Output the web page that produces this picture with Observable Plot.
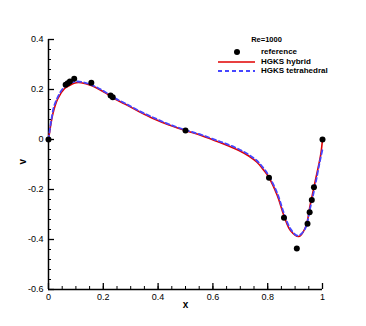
<!DOCTYPE html>
<html><head><meta charset="utf-8">
<script src="https://cdn.jsdelivr.net/npm/d3@7"></script>
<script src="https://cdn.jsdelivr.net/npm/@observablehq/plot@0.6"></script>
<style>
body{margin:0;background:#fff}
#wrap{position:relative;width:366px;height:326px;font-family:'Liberation Sans',Arial,sans-serif}
.lg{position:absolute;font-size:8px;font-weight:bold;line-height:1;white-space:nowrap;transform:translateY(-50%)}
</style>
</head><body><div id="wrap"></div>
<script>
// reference data (dots)
const refX = [0, 0.0625, 0.0703, 0.0781, 0.0938, 0.1563, 0.2266, 0.2344, 0.5, 0.8047, 0.8594, 0.9063, 0.9453, 0.9531, 0.9609, 0.9688, 1.0];
const refV = [0, 0.219, 0.225, 0.232, 0.243, 0.227, 0.176, 0.169, 0.036, -0.153, -0.313, -0.436, -0.337, -0.291, -0.242, -0.191, 0];
// HGKS hybrid (red)
const hybX = [0, 0.004, 0.016, 0.034, 0.058, 0.083, 0.101, 0.119, 0.156, 0.204, 0.241, 0.277, 0.33, 0.384, 0.44, 0.5, 0.56, 0.628, 0.66, 0.695, 0.731, 0.76, 0.785, 0.804, 0.835, 0.859, 0.883, 0.914, 0.938, 0.956, 0.974, 0.993, 1.0];
const hybV = [0, 0.029, 0.103, 0.163, 0.203, 0.220, 0.227, 0.227, 0.216, 0.189, 0.163, 0.143, 0.112, 0.083, 0.058, 0.036, 0.015, -0.013, -0.027, -0.044, -0.066, -0.090, -0.122, -0.151, -0.224, -0.304, -0.364, -0.388, -0.351, -0.257, -0.164, -0.064, 0];
// HGKS tetrahedral (blue dashed)
const tetX = [0, 0.007, 0.012, 0.019, 0.028, 0.040, 0.052, 0.070, 0.089, 0.107, 0.14, 0.17, 0.204, 0.241, 0.277, 0.33, 0.384, 0.44, 0.5, 0.56, 0.628, 0.66, 0.695, 0.731, 0.76, 0.785, 0.804, 0.835, 0.859, 0.883, 0.91, 0.935, 0.956, 0.974, 0.99, 1.0];
const tetV = [0, 0.056, 0.089, 0.129, 0.156, 0.183, 0.203, 0.220, 0.229, 0.232, 0.225, 0.212, 0.192, 0.166, 0.146, 0.115, 0.087, 0.061, 0.038, 0.018, -0.009, -0.022, -0.039, -0.061, -0.084, -0.115, -0.145, -0.215, -0.294, -0.357, -0.385, -0.36, -0.27, -0.18, -0.09, -0.04];

const xTicks = [0, 0.2, 0.4, 0.6, 0.8, 1];
const yTicks = [-0.6, -0.4, -0.2, 0, 0.2, 0.4];
const xMinor = d3.range(0, 1.0001, 0.05);
const yMinor = d3.range(-0.6, 0.4001, 0.04);

const ref = refX.map((x, i) => ({x, v: refV[i]}));
const hyb = hybX.map((x, i) => ({x, v: hybV[i]}));
const tet = tetX.map((x, i) => ({x, v: tetV[i]}));
const fmt = d => String(Math.round(d * 10) / 10);

const plot = Plot.plot({
  width: 366, height: 326,
  marginLeft: 48, marginRight: 44, marginTop: 39, marginBottom: 37,
  style: {fontFamily: "'Liberation Sans', Arial, sans-serif", fontSize: "9px", color: "black", background: "white"},
  x: {domain: [0, 1]},
  y: {domain: [-0.6, 0.4]},
  marks: [
    Plot.axisX({ticks: xTicks, tickSize: 0, tickPadding: 4, tickFormat: fmt, label: null, fontSize: 9}),
    Plot.axisY({ticks: yTicks, tickSize: 0, tickPadding: 5, tickFormat: fmt, label: null, fontSize: 9}),
    Plot.tickX(xMinor, {x: d => d, insetTop: 247, stroke: "black", strokeWidth: 1}),
    Plot.tickX(xTicks, {x: d => d, insetTop: 244, stroke: "black", strokeWidth: 1.3}),
    Plot.tickY(yMinor, {y: d => d, insetRight: 271, stroke: "black", strokeWidth: 1}),
    Plot.tickY(yTicks, {y: d => d, insetRight: 268, stroke: "black", strokeWidth: 1.3}),
    Plot.ruleX([0], {stroke: "black", strokeWidth: 1.5}),
    Plot.ruleY([-0.6], {stroke: "black", strokeWidth: 1.5}),
    Plot.line(hyb, {x: "x", y: "v", stroke: "#e00000", strokeWidth: 1.6, curve: "catmull-rom"}),
    Plot.line(tet, {x: "x", y: "v", stroke: "#4646ff", strokeWidth: 1.8, strokeDasharray: "4,3", curve: "catmull-rom"}),
    Plot.dot(ref, {x: "x", y: "v", r: 3, fill: "black", stroke: "none"}),
    Plot.text(["x"], {frameAnchor: "bottom", dy: 18, fontWeight: "bold", fontSize: 10}),
    Plot.text(["v"], {frameAnchor: "left", dx: -26, rotate: -90, fontWeight: "bold", fontSize: 10})
  ]
});
const wrap = document.getElementById("wrap");
wrap.appendChild(plot);

// legend overlay
const legend = [
  {label: "reference", kind: "dot"},
  {label: "HGKS hybrid", kind: "solid", color: "#e00000"},
  {label: "HGKS tetrahedral", kind: "dash", color: "#4646ff"}
];
const title = document.createElement("div");
title.className = "lg";
title.textContent = "Re=1000";
title.style.cssText = "left:266.5px;top:40px;font-size:7.5px;transform:translate(-50%,-50%)";
wrap.appendChild(title);
const rowY = [52, 61.5, 71];
legend.forEach((item, i) => {
  const t = document.createElement("div");
  t.className = "lg";
  t.textContent = item.label;
  t.style.left = "261px";
  t.style.top = rowY[i] + "px";
  wrap.appendChild(t);
  const s = document.createElementNS("http://www.w3.org/2000/svg", "svg");
  s.setAttribute("width", 40); s.setAttribute("height", 8);
  s.style.cssText = `position:absolute;left:217px;top:${rowY[i] - 4}px;overflow:visible`;
  if (item.kind === "dot") {
    const c = document.createElementNS(s.namespaceURI, "circle");
    c.setAttribute("cx", 20); c.setAttribute("cy", 4); c.setAttribute("r", 3); c.setAttribute("fill", "black");
    s.appendChild(c);
  } else {
    const l = document.createElementNS(s.namespaceURI, "line");
    l.setAttribute("x1", 1); l.setAttribute("x2", 38); l.setAttribute("y1", 4); l.setAttribute("y2", 4);
    l.setAttribute("stroke", item.color); l.setAttribute("stroke-width", item.kind === "dash" ? 1.8 : 1.6);
    if (item.kind === "dash") l.setAttribute("stroke-dasharray", "4,3");
    s.appendChild(l);
  }
  wrap.appendChild(s);
});
</script>
</body></html>
